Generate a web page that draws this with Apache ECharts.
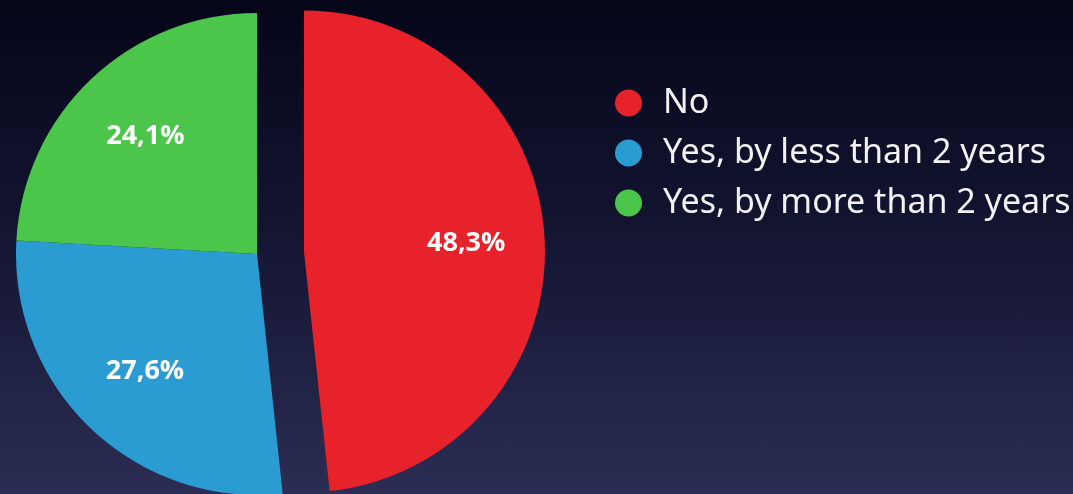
<!DOCTYPE html>
<html>
<head>
<meta charset="utf-8">
<script src="https://cdn.jsdelivr.net/npm/echarts@6/dist/echarts.min.js"></script>
<style>
  html, body { margin: 0; padding: 0; }
  #chart {
    width: 1073px;
    height: 494px;
    background: linear-gradient(to bottom, #06061a 0%, #131430 45%, #2b2d54 100%);
  }
</style>
</head>
<body>
<div id="chart"></div>
<script>
// data
var categories = ['No', 'Yes, by less than 2 years', 'Yes, by more than 2 years'];
var shares = [48.3, 27.6, 24.1];
var colors = ['#e8222a', '#2b9cd1', '#4cc54b'];

var chart = echarts.init(document.getElementById('chart'));

function pieData (hidden) {
  return categories.map(function (name, i) {
    return {
      name: name,
      value: shares[i],
      selected: i === 0,
      itemStyle: { color: hidden ? 'rgba(0,0,0,0)' : colors[i] }
    };
  });
}

chart.setOption({
  animation: false,
  legend: {
    orient: 'vertical',
    left: 610,
    top: 81,
    icon: 'circle',
    itemWidth: 27,
    itemHeight: 27,
    itemGap: 16,
    selectedMode: false,
    textStyle: {
      color: '#f2f2f2',
      fontSize: 34,
      fontFamily: 'Noto Sans',
      padding: [0, 0, 0, 16]
    },
    data: categories
  },
  series: [
    {
      // the pie itself
      type: 'pie',
      center: [257, 254],
      radius: 241,
      startAngle: 90,
      clockwise: true,
      selectedMode: 'single',
      selectedOffset: 47,
      silent: true,
      label: { show: false },
      labelLine: { show: false },
      emphasis: { disabled: true },
      data: pieData(false)
    },
    {
      // invisible ring just to put the labels further out
      type: 'pie',
      center: [257, 254],
      radius: [78, 241],
      startAngle: 90,
      clockwise: true,
      selectedMode: 'single',
      selectedOffset: 47,
      silent: true,
      label: {
        show: true,
        position: 'inside',
        color: '#ffffff',
        fontSize: 27,
        fontWeight: 'bold',
        fontFamily: 'Open Sans',
        formatter: function (p) { return String(p.value).replace('.', ',') + '%'; }
      },
      labelLine: { show: false },
      emphasis: { disabled: true },
      legendHoverLink: false,
      data: pieData(true)
    }
  ]
});
</script>
</body>
</html>
